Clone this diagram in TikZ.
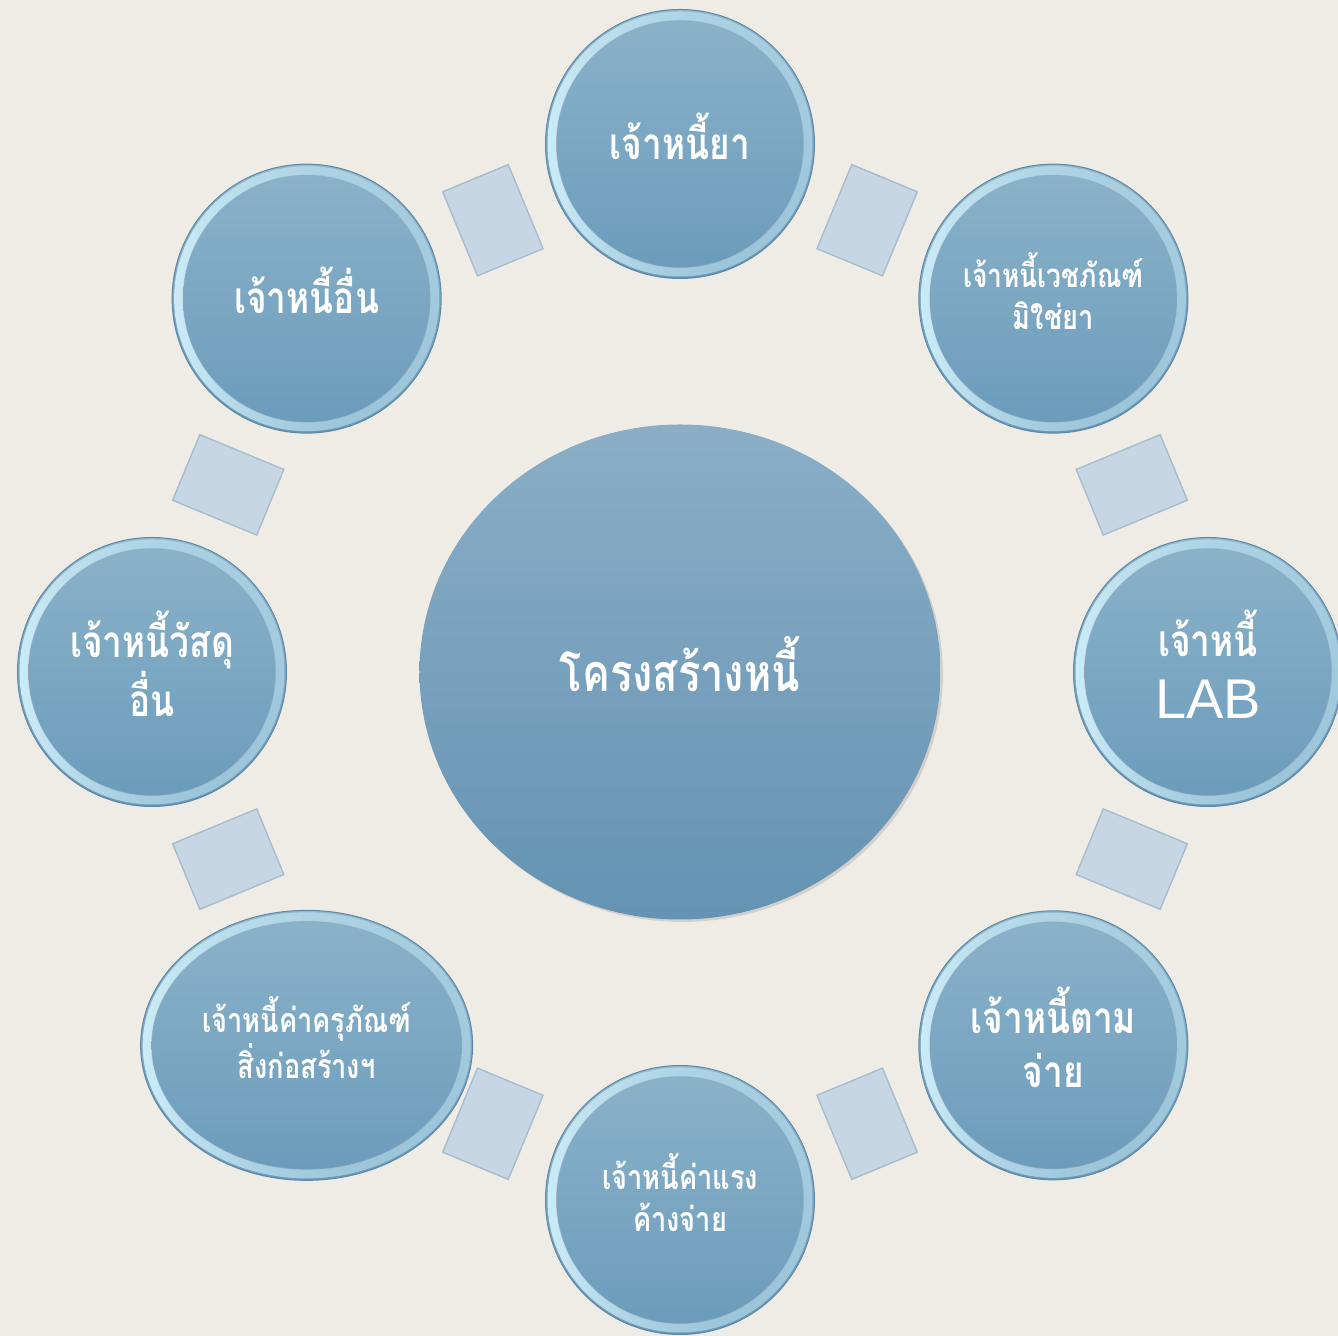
\documentclass[tikz,border=0pt]{standalone}
\usepackage{fontspec}
\newfontfamily\thaifont[Script=Thai, FakeStretch=0.8]{Loma}
\newfontfamily\latinfont{Liberation Sans}
\usetikzlibrary{shapes.geometric,shadows,fadings}

\definecolor{paper}{HTML}{EFECE5}
\definecolor{hubtop}{HTML}{8BAEC6}
\definecolor{hubbot}{HTML}{6493B3}
\definecolor{rimtop}{HTML}{8FB8CE}
\definecolor{rimbot}{HTML}{6898B8}
\definecolor{rimline}{HTML}{6189A6}
\definecolor{rimhi}{HTML}{CDEDF8}
\definecolor{rimright}{HTML}{B4DAEA}
\definecolor{facetop}{HTML}{8AB2C9}
\definecolor{facebot}{HTML}{6C9CBB}
\definecolor{linkfill}{HTML}{C6D6E4}
\definecolor{linkline}{HTML}{A7BCCE}

\tikzfading[name=glowleft, left color=transparent!0, middle color=transparent!85, right color=transparent!100]
\tikzfading[name=glowright, left color=transparent!100, middle color=transparent!90, right color=transparent!30]

\tikzset{
  bubble/.style 2 args={ellipse, minimum width=#1, minimum height=#2, inner sep=0pt,
    top color=rimtop, bottom color=rimbot, draw=rimline, line width=0.5pt,
    text=white, align=center, text depth=8pt,
    path picture={
      \fill[rimhi, path fading=glowleft, even odd rule]
        (path picture bounding box.center) ellipse [x radius=#1/2-1pt, y radius=#2/2-1pt]
        (path picture bounding box.center) ellipse [x radius=#1/2-5.5pt, y radius=#2/2-5.5pt];
      \fill[rimright, path fading=glowright, even odd rule]
        (path picture bounding box.center) ellipse [x radius=#1/2-1pt, y radius=#2/2-1pt]
        (path picture bounding box.center) ellipse [x radius=#1/2-5.5pt, y radius=#2/2-5.5pt];
      \shade[top color=facetop, bottom color=facebot]
        (path picture bounding box.center) ellipse [x radius=#1/2-5.5pt, y radius=#2/2-5.5pt];
      \draw[rimline!70, opacity=0.35, line width=0.6pt]
        (path picture bounding box.center) ellipse [x radius=#1/2-5.5pt, y radius=#2/2-5.5pt];
    }},
  hub/.style={ellipse, minimum width=260.5pt, minimum height=247.5pt, inner sep=0pt,
    top color=hubtop, bottom color=hubbot, text=white, text depth=8pt,
    drop shadow={shadow xshift=1.2pt, shadow yshift=-1.2pt, opacity=0.25}},
  link/.style={rectangle, minimum width=35.5pt, minimum height=45.5pt, inner sep=0pt,
    fill=linkfill, draw=linkline, line width=0.7pt},
  big/.style={font=\thaifont\bfseries\fontsize{22}{27}\selectfont},
  small/.style={font=\thaifont\bfseries\fontsize{17}{21}\selectfont}
}

\begin{document}
\begin{tikzpicture}[x=0.5pt, y=0.5pt]
  \fill[paper] (-680,-664) rectangle (658,672);
  \useasboundingbox (-680,-664) rectangle (658,672);

  % centre
  \node[hub, font=\thaifont\bfseries\fontsize{26}{30}\selectfont] (hub) at (0,0) {โครงสร้างหนี้};

  % creditors round the centre
  \node[bubble={134.5pt}{134.5pt}, big]   (drug)  at (90:528)  {เจ้าหนี้ยา};
  \node[bubble={134.5pt}{134.5pt}, small] (supply) at (45:528) {\fontsize{16.5}{21}\selectfont เจ้าหนี้เวชภัณฑ์\\มิใช่ยา};
  \node[bubble={134.5pt}{134.5pt}, big]   (lab)   at (0:528)
    {เจ้าหนี้\\[4pt]{\latinfont\mdseries\fontsize{28}{30}\selectfont LAB}};
  \node[bubble={134.5pt}{134.5pt}, big]   (paid)  at (-45:528) {เจ้าหนี้ตาม\\จ่าย};
  \node[bubble={134.5pt}{134.5pt}, small] (wage)  at (-90:528) {เจ้าหนี้ค่าแรง\\ค้างจ่าย};
  \node[bubble={166pt}{135pt}, small]     (equip) at (-135:528) {เจ้าหนี้ค่าครุภัณฑ์\\สิ่งก่อสร้างฯ};
  \node[bubble={134.5pt}{134.5pt}, big]   (stock) at (180:528) {เจ้าหนี้วัสดุ\\อื่น};
  \node[bubble={134.5pt}{134.5pt}, big]   (other) at (135:528) {เจ้าหนี้อื่น};

  % links between neighbours
  \node[link, rotate=-22.5]  (l1) at (67.5:489)   {};
  \node[link, rotate=-67.5]  (l2) at (22.5:489)   {};
  \node[link, rotate=-112.5] (l3) at (-22.5:489)  {};
  \node[link, rotate=-157.5] (l4) at (-67.5:489)  {};
  \node[link, rotate=-202.5] (l5) at (-112.5:489) {};
  \node[link, rotate=-247.5] (l6) at (-157.5:489) {};
  \node[link, rotate=-292.5] (l7) at (157.5:489)  {};
  \node[link, rotate=-337.5] (l8) at (112.5:489)  {};
\end{tikzpicture}
\end{document}
